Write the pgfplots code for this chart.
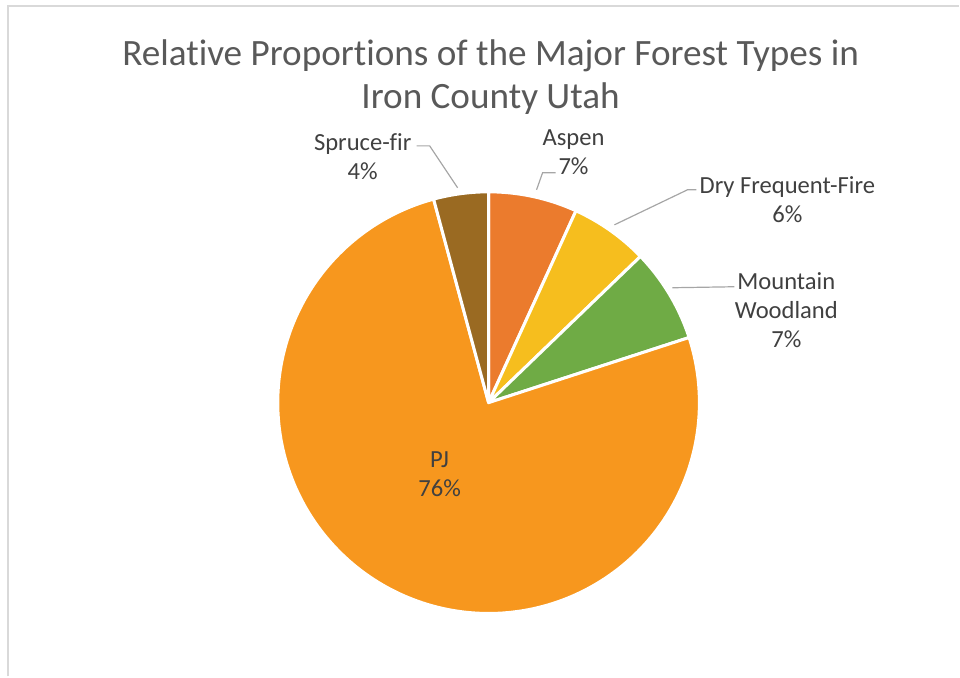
\documentclass[border=0pt]{standalone}
\usepackage{pgfplots}
\pgfplotsset{compat=1.18}
\usepackage{fontspec}
\setmainfont{Carlito}[Ligatures=NoCommon]
\definecolor{cAspen}{HTML}{EB7B2D}
\definecolor{cDry}{HTML}{F6BE1E}
\definecolor{cMount}{HTML}{6FAB45}
\definecolor{cPJ}{HTML}{F7971E}
\definecolor{cSpruce}{HTML}{9A6A22}
\definecolor{cTitle}{HTML}{595959}
\definecolor{cLabel}{HTML}{404040}
\definecolor{cLeader}{HTML}{A6A6A6}
\definecolor{cFrame}{HTML}{D9D9D9}
% slice shares in percent (clockwise from 12 o'clock)
\def\vAspen{6.8}
\def\vDry{6.0}
\def\vMount{7.2}
\def\vPJ{75.8}
\def\vSpruce{4.2}
\pgfmathsetmacro\aA{90}
\pgfmathsetmacro\aB{\aA-3.6*\vAspen}
\pgfmathsetmacro\aC{\aB-3.6*\vDry}
\pgfmathsetmacro\aD{\aC-3.6*\vMount}
\pgfmathsetmacro\aE{\aD-3.6*\vPJ}
\pgfmathsetmacro\aF{\aE-3.6*\vSpruce}
\def\cx{489}
\def\cy{274}
\def\rr{211}
\begin{document}
\begin{tikzpicture}
\begin{axis}[
  scale only axis, width=480pt, height=338.5pt,
  xmin=0, xmax=960, ymin=0, ymax=677,
  hide axis, clip=false,
]
\path (axis cs:0,0) rectangle (axis cs:960,677);
\addplot[cFrame, line width=0.8pt, no marks] coordinates {(8,0) (8,671) (960,671)};
% slices
\addplot[fill=cAspen, draw=white, line width=1.5pt, line join=round, domain=\aB:\aA, samples=40, variable=\t, no marks]
  ({\cx+\rr*cos(\t)},{\cy+\rr*sin(\t)}) -- (axis cs:\cx,\cy) -- cycle;
\addplot[fill=cDry, draw=white, line width=1.5pt, line join=round, domain=\aC:\aB, samples=40, variable=\t, no marks]
  ({\cx+\rr*cos(\t)},{\cy+\rr*sin(\t)}) -- (axis cs:\cx,\cy) -- cycle;
\addplot[fill=cMount, draw=white, line width=1.5pt, line join=round, domain=\aD:\aC, samples=40, variable=\t, no marks]
  ({\cx+\rr*cos(\t)},{\cy+\rr*sin(\t)}) -- (axis cs:\cx,\cy) -- cycle;
\addplot[fill=cPJ, draw=white, line width=1.5pt, line join=round, domain=\aE:\aD, samples=200, variable=\t, no marks]
  ({\cx+\rr*cos(\t)},{\cy+\rr*sin(\t)}) -- (axis cs:\cx,\cy) -- cycle;
\addplot[fill=cSpruce, draw=white, line width=1.5pt, line join=round, domain=\aF:\aE, samples=30, variable=\t, no marks]
  ({\cx+\rr*cos(\t)},{\cy+\rr*sin(\t)}) -- (axis cs:\cx,\cy) -- cycle;
% leader lines
\addplot[cLeader, line width=0.6pt, no marks] coordinates {(417,531) (430,531) (458,489)};
\addplot[cLeader, line width=0.6pt, no marks] coordinates {(556,504) (543,504) (537,487)};
\addplot[cLeader, line width=0.6pt, no marks] coordinates {(697,487) (688,487) (615,452)};
\addplot[cLeader, line width=0.6pt, no marks] coordinates {(735,390) (673,389)};
% title
\node[text=cTitle, font=\fontsize{18.6}{21.5}\selectfont, align=center] at (axis cs:491,600)
  {Relative Proportions of the Major Forest Types in\\Iron County Utah};
% labels
\node[text=cLabel, font=\fontsize{12.3}{14.5}\selectfont, align=center] at (axis cs:363,520) {Spruce-fir\\4\%};
\node[text=cLabel, font=\fontsize{12.3}{14.5}\selectfont, align=center] at (axis cs:574,525) {Aspen\\7\%};
\node[text=cLabel, font=\fontsize{12.3}{14.5}\selectfont, align=center] at (axis cs:788,477) {Dry Frequent-Fire\\6\%};
\node[text=cLabel, font=\fontsize{12.3}{14.5}\selectfont, align=center] at (axis cs:787,367) {Mountain\\Woodland\\7\%};
\node[text=cLabel, font=\fontsize{12.3}{14.5}\selectfont, align=center] at (axis cs:440,202) {PJ\\76\%};
\end{axis}
\end{tikzpicture}
\end{document}
